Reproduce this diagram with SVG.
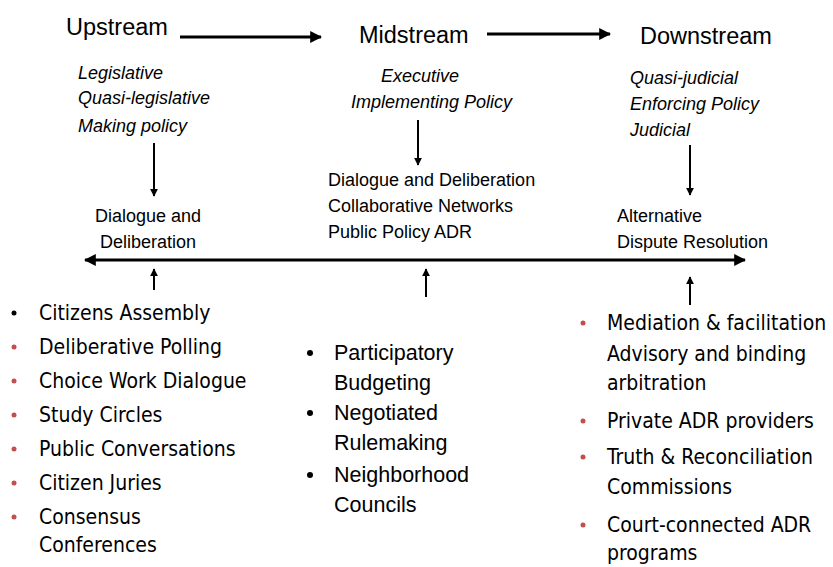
<svg xmlns="http://www.w3.org/2000/svg" width="833" height="567" viewBox="0 0 833 567">
<defs>
<marker id="ah" viewBox="0 0 10 10" refX="9" refY="5" markerWidth="4" markerHeight="4" orient="auto-start-reverse" markerUnits="strokeWidth"><path d="M0,0 L10,5 L0,10 z" fill="#000"/></marker>
<style>
.h{font-family:"Liberation Sans",Arial,sans-serif;font-size:23.5px;fill:#000}
.i{font-family:"Liberation Sans",Arial,sans-serif;font-size:18px;font-style:italic;fill:#000}
.t{font-family:"Liberation Sans",Arial,sans-serif;font-size:18px;fill:#000}
.b{font-family:"DejaVu Sans Condensed","DejaVu Sans",sans-serif;font-size:21px;fill:#000}
.m{font-family:"Liberation Sans",Arial,sans-serif;font-size:21.5px;fill:#000}
.rd{fill:#c0504d}
.bk{fill:#000}
.c{stroke:#000;stroke-width:3;fill:none;marker-end:url(#ah)}
.c2{stroke:#000;stroke-width:2;fill:none;marker-end:url(#ah)}
</style>
</defs>
<rect width="833" height="567" fill="#fff"/>
<g id="upstream">
<text class="h" x="66" y="35">Upstream</text>
<text class="i" x="78" y="79">Legislative</text>
<text class="i" x="78" y="104">Quasi-legislative</text>
<text class="i" x="78" y="132">Making policy</text>
<text class="t" x="148" y="222" text-anchor="middle">Dialogue and</text>
<text class="t" x="148" y="248" text-anchor="middle">Deliberation</text>
</g>
<g id="midstream">
<text class="h" x="359" y="43">Midstream</text>
<text class="i" x="381" y="82">Executive</text>
<text class="i" x="351" y="108">Implementing Policy</text>
<text class="t" x="328" y="186">Dialogue and Deliberation</text>
<text class="t" x="328" y="212">Collaborative Networks</text>
<text class="t" x="328" y="238">Public Policy ADR</text>
</g>
<g id="downstream">
<text class="h" x="640" y="44">Downstream</text>
<text class="i" x="630" y="84">Quasi-judicial</text>
<text class="i" x="630" y="110">Enforcing Policy</text>
<text class="i" x="630" y="136">Judicial</text>
<text class="t" x="617" y="222">Alternative</text>
<text class="t" x="617" y="248">Dispute Resolution</text>
</g>
<g id="list-upstream">
<circle class="bk" cx="14" cy="313" r="2.5"/>
<text class="b" x="39" y="320">Citizens Assembly</text>
<circle class="rd" cx="14" cy="347" r="2.5"/>
<text class="b" x="39" y="354">Deliberative Polling</text>
<circle class="rd" cx="14" cy="381" r="2.5"/>
<text class="b" x="39" y="388">Choice Work Dialogue</text>
<circle class="rd" cx="14" cy="415" r="2.5"/>
<text class="b" x="39" y="422">Study Circles</text>
<circle class="rd" cx="14" cy="449" r="2.5"/>
<text class="b" x="39" y="456">Public Conversations</text>
<circle class="rd" cx="14" cy="483" r="2.5"/>
<text class="b" x="39" y="490">Citizen Juries</text>
<circle class="rd" cx="14" cy="517" r="2.5"/>
<text class="b" x="39" y="524">Consensus</text>
<text class="b" x="39" y="552">Conferences</text>
</g>
<g id="list-midstream">
<circle class="bk" cx="310" cy="353" r="3"/>
<text class="m" x="334" y="360">Participatory</text>
<text class="m" x="334" y="390">Budgeting</text>
<circle class="bk" cx="310" cy="413" r="3"/>
<text class="m" x="334" y="420">Negotiated</text>
<text class="m" x="334" y="450">Rulemaking</text>
<circle class="bk" cx="310" cy="475" r="3"/>
<text class="m" x="334" y="482">Neighborhood</text>
<text class="m" x="334" y="512">Councils</text>
</g>
<g id="list-downstream">
<circle class="rd" cx="583" cy="323" r="2.5"/>
<text class="b" x="607" y="330">Mediation &amp; facilitation</text>
<text class="b" x="607" y="361">Advisory and binding</text>
<text class="b" x="607" y="390">arbitration</text>
<circle class="rd" cx="583" cy="421" r="2.5"/>
<text class="b" x="607" y="428">Private ADR providers</text>
<circle class="rd" cx="583" cy="457" r="2.5"/>
<text class="b" x="607" y="464">Truth &amp; Reconciliation</text>
<text class="b" x="607" y="494">Commissions</text>
<circle class="rd" cx="583" cy="525" r="2.5"/>
<text class="b" x="607" y="532">Court-connected ADR</text>
<text class="b" x="607" y="560">programs</text>
</g>
<g id="connectors">
<line class="c" x1="180" y1="37" x2="321" y2="37"/>
<line class="c" x1="487" y1="34" x2="610" y2="34"/>
<line class="c2" x1="154" y1="143" x2="154" y2="196"/>
<line class="c2" x1="418" y1="120" x2="418" y2="165"/>
<line class="c2" x1="690" y1="145" x2="690" y2="195"/>
<line class="c" x1="85" y1="260" x2="745" y2="260" marker-start="url(#ah)"/>
<line class="c2" x1="154" y1="290" x2="154" y2="269"/>
<line class="c2" x1="426" y1="297" x2="426" y2="269"/>
<line class="c2" x1="690" y1="305" x2="690" y2="277"/>
</g>
</svg>
